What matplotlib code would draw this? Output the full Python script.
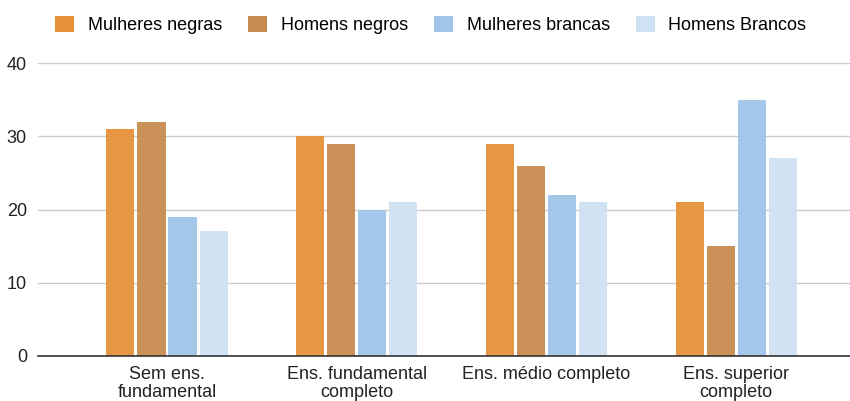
import matplotlib.pyplot as plt
import numpy as np
from matplotlib.patches import Patch

plt.rcParams['font.family'] = ['Liberation Sans', 'DejaVu Sans']

categories = ["Sem ens.\nfundamental", "Ens. fundamental\ncompleto",
              "Ens. médio completo", "Ens. superior\ncompleto"]
series = ["Mulheres negras", "Homens negros", "Mulheres brancas", "Homens Brancos"]
mulheres_negras = [31, 30, 29, 21]
homens_negros = [32, 29, 26, 15]
mulheres_brancas = [19, 20, 22, 35]
homens_brancos = [17, 21, 21, 27]
values = [mulheres_negras, homens_negros, mulheres_brancas, homens_brancos]
colors = ["#e69138", "#c78b4f", "#9fc5e8", "#cfe2f3"]

fig = plt.figure(figsize=(8.5, 4.01), dpi=100)
ax = fig.add_axes([38 / 850, 1 - 356 / 401, 1 - 38 / 850, (356 - 63) / 401])

x = np.arange(len(categories))
w = 0.148
step = 0.1636
for i, (vals, c) in enumerate(zip(values, colors)):
    ax.bar(x + (i - 1.5) * step, vals, width=w, color=c, alpha=0.95, zorder=2)

ax.set_ylim(0, 40)
ax.set_xlim(-0.68, 3.6)
ax.set_yticks([0, 10, 20, 30, 40])
ax.yaxis.grid(True, color="#cccccc", linewidth=1, zorder=1)
ax.set_axisbelow(True)
for s in ["top", "right", "left"]:
    ax.spines[s].set_visible(False)
ax.spines["bottom"].set_color("#333333")
ax.spines["bottom"].set_linewidth(1.2)
ax.spines["bottom"].set_zorder(3)
ax.tick_params(axis="both", length=0, labelsize=13, colors="#222222")
ax.tick_params(axis="y", pad=8)
ax.tick_params(axis="x", pad=7)
ax.set_xticks(x)
ax.set_xticklabels(categories, linespacing=1.08)

handles = [Patch(facecolor=c, edgecolor="none") for c in colors]
fig.legend(handles, series, loc="center", bbox_to_anchor=(0.507, 1 - 25 / 401),
           ncol=4, frameon=False, fontsize=13, handlelength=1.05, handleheight=1.05,
           handletextpad=0.75, columnspacing=1.45)

fig.savefig("out.png", dpi=100)
